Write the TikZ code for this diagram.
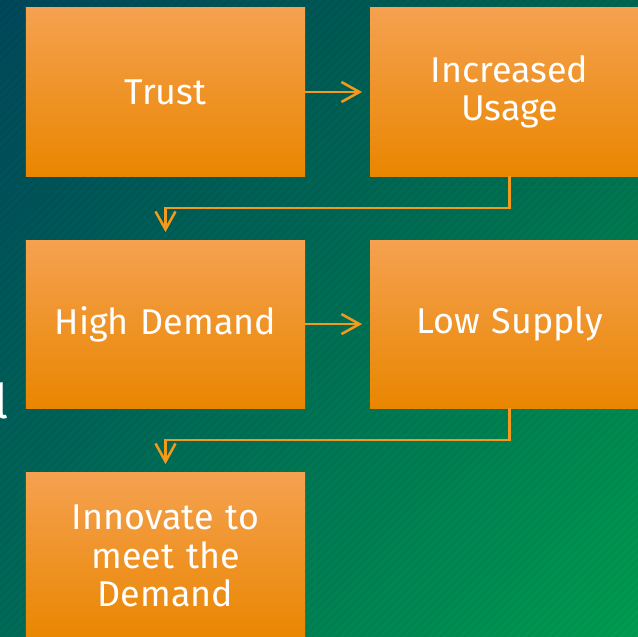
\documentclass[tikz,border=0pt]{standalone}
\usepackage{fontspec}
\setmainfont{Fira Sans}
\usetikzlibrary{positioning,arrows.meta,shadings}

\definecolor{bgtl}{HTML}{00475A}
\definecolor{bgtr}{HTML}{00664F}
\definecolor{bgbl}{HTML}{006A57}
\definecolor{bgbr}{HTML}{009C50}
\definecolor{boxtop}{HTML}{F5A150}
\definecolor{boxmid}{HTML}{FA9A0E}
\definecolor{boxbot}{HTML}{E98600}
\definecolor{linkcol}{HTML}{F39A1C}

\tikzset{
  stage/.style={rectangle, minimum width=6.975cm, minimum height=4.2cm,
    inner sep=0pt, outer sep=0pt, text width=6.2cm, align=center,
    top color=boxtop, middle color=boxmid, bottom color=boxbot,
    text=white, font=\fontsize{25.5}{27.5}\selectfont},
  link/.style={draw=linkcol, line width=1.8pt,
    -{Straight Barb[length=0.45cm, width=0.5cm]}, shorten >=0.2cm}
}

\begin{document}
\begin{tikzpicture}[x=0.025cm, y=-0.025cm, node distance=1.6cm and 1.625cm]
    \useasboundingbox (0,0) rectangle (638,637);
    % backdrop with faint hatching
    \shade[upper left=bgtl, upper right=bgtr, lower left=bgbl, lower right=bgbr]
        (0,0) rectangle (638,637);
    \foreach \i in {-640,-632,...,640}
        \draw[black, opacity=0.05, line width=0.9pt] (\i,637) -- (\i+637,0);
    % slide title cut at the edge
    \node[anchor=base east, inner sep=0pt, text=white,
        font=\fontsize{34}{34}\selectfont] (edge) at (9,418) {l};

    \node[stage] (trust) at (165.5,92) {Trust};
    \node[stage, right=of trust] (usage) {Increased Usage};
    \node[stage, below=of trust] (demand) {High Demand};
    \node[stage, right=of demand] (supply) {Low Supply};
    \node[stage, below=of demand] (innovate) {Innovate to meet the Demand};

    \draw[link] (trust) -- (usage);
    \draw[link] (usage.south) -- ++(0,32) -| (demand.north);
    \draw[link] (demand) -- (supply);
    \draw[link] (supply.south) -- ++(0,32) -| (innovate.north);
\end{tikzpicture}
\end{document}
